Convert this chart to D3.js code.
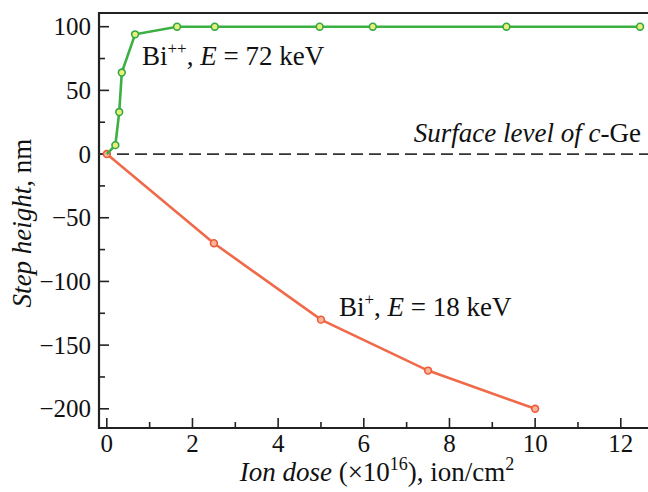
<!DOCTYPE html>
<html><head><meta charset="utf-8">
<script src="https://cdn.jsdelivr.net/npm/d3@7"></script>
<style>body{margin:0;background:#fff}svg{display:block}text{font-family:"Liberation Serif","Times New Roman",serif;fill:#111}</style>
</head><body><svg id="c" width="648" height="492"></svg>
<script>
const greenX = [0, 0.2, 0.29, 0.35, 0.66, 1.64, 2.52, 4.97, 6.21, 9.33, 12.45];
const greenY = [0, 7, 33, 64, 94, 100, 100, 100, 100, 100, 100];
const redX = [0, 2.5, 5, 7.5, 10];
const redY = [0, -70, -130, -170, -200];
const xTicks = [0, 2, 4, 6, 8, 10, 12];
const yTicks = [100, 50, 0, -50, -100, -150, -200];

const svg = d3.select("#c");
const L = 99, T = 13, R = 648, B = 428;
const x = d3.scaleLinear().domain([0, 12]).range([106.8, 620.8]);
const y = d3.scaleLinear().domain([100, -200]).range([26.7, 408.8]);

// frame
svg.append("path").attr("d", `M${R},${T}H${L}V${B}H${R}`).attr("fill","none").attr("stroke","#222").attr("stroke-width",2.2);

// x ticks
const xMinor = d3.range(1, 13, 2);
svg.append("g").selectAll("line").data(xTicks).join("line")
  .attr("x1", d=>x(d)).attr("x2", d=>x(d)).attr("y1", B).attr("y2", B-10).attr("stroke","#222").attr("stroke-width",1.6);
svg.append("g").selectAll("line").data(xMinor).join("line")
  .attr("x1", d=>x(d)).attr("x2", d=>x(d)).attr("y1", B).attr("y2", B-6).attr("stroke","#222").attr("stroke-width",1.6);
svg.append("g").selectAll("text").data(xTicks).join("text")
  .attr("x", d=>x(d)).attr("y", 452).attr("text-anchor","middle").attr("font-size",25).text(d=>d);

// y ticks
const yMinor = [75, 25, -25, -75, -125, -175];
svg.append("g").selectAll("line").data(yTicks).join("line")
  .attr("x1", L).attr("x2", L+10).attr("y1", d=>y(d)).attr("y2", d=>y(d)).attr("stroke","#222").attr("stroke-width",1.6);
svg.append("g").selectAll("line").data(yMinor).join("line")
  .attr("x1", L).attr("x2", L+6).attr("y1", d=>y(d)).attr("y2", d=>y(d)).attr("stroke","#222").attr("stroke-width",1.6);
svg.append("g").selectAll("text").data(yTicks).join("text")
  .attr("x", 91).attr("y", d=>y(d)+8.5).attr("text-anchor","end").attr("font-size",25)
  .text(d=> d<0 ? "\u2212"+Math.abs(d) : d);

// dashed surface line
svg.append("line").attr("x1", L).attr("x2", R).attr("y1", y(0)).attr("y2", y(0))
  .attr("stroke","#333").attr("stroke-width",1.8).attr("stroke-dasharray","12,6");

const line = d3.line().x(d=>x(d[0])).y(d=>y(d[1]));
const red = redX.map((v,i)=>[v, redY[i]]);
const green = greenX.map((v,i)=>[v, greenY[i]]);

svg.append("path").datum(red).attr("d", line).attr("fill","none").attr("stroke","#f06a4a").attr("stroke-width",2.6);
svg.append("g").selectAll("circle").data(red).join("circle")
  .attr("cx", d=>x(d[0])).attr("cy", d=>y(d[1])).attr("r",3.4).attr("fill","#f9b49a").attr("stroke","#ee5a3a").attr("stroke-width",1.6);

svg.append("path").datum(green).attr("d", line).attr("fill","none").attr("stroke","#3cb043").attr("stroke-width",2.6);
svg.append("g").selectAll("circle").data(green.slice(1)).join("circle")
  .attr("cx", d=>x(d[0])).attr("cy", d=>y(d[1])).attr("r",3.4).attr("fill","#e8f07a").attr("stroke","#34a844").attr("stroke-width",1.6);

// annotations
const t1 = svg.append("text").attr("x", 142).attr("y", 65).attr("font-size",27);
t1.append("tspan").text("Bi");
t1.append("tspan").attr("font-size",17).attr("dy",-11).text("++");
t1.append("tspan").attr("dy",11).text(", ");
t1.append("tspan").attr("font-style","italic").text("E");
t1.append("tspan").text(" = 72 keV");

const t2 = svg.append("text").attr("x", 339).attr("y", 316).attr("font-size",27);
t2.append("tspan").text("Bi");
t2.append("tspan").attr("font-size",17).attr("dy",-11).text("+");
t2.append("tspan").attr("dy",11).text(", ");
t2.append("tspan").attr("font-style","italic").text("E");
t2.append("tspan").text(" = 18 keV");

const t3 = svg.append("text").attr("x", 641).attr("y", 142).attr("font-size",27).attr("text-anchor","end");
t3.append("tspan").attr("font-style","italic").text("Surface level of c");
t3.append("tspan").text("-Ge");

// axis titles
const xt = svg.append("text").attr("x", 377).attr("y", 481).attr("text-anchor","middle").attr("font-size",27);
xt.append("tspan").attr("font-style","italic").text("Ion dose");
xt.append("tspan").text(" (\u00d710");
xt.append("tspan").attr("font-size",18).attr("dy",-11).text("16");
xt.append("tspan").attr("dy",11).text("), ion/cm");
xt.append("tspan").attr("font-size",18).attr("dy",-11).text("2");

const yt = svg.append("text").attr("transform","translate(31,223) rotate(-90)").attr("text-anchor","middle").attr("font-size",27);
yt.append("tspan").attr("font-style","italic").text("Step height");
yt.append("tspan").text(", nm");
</script></body></html>
